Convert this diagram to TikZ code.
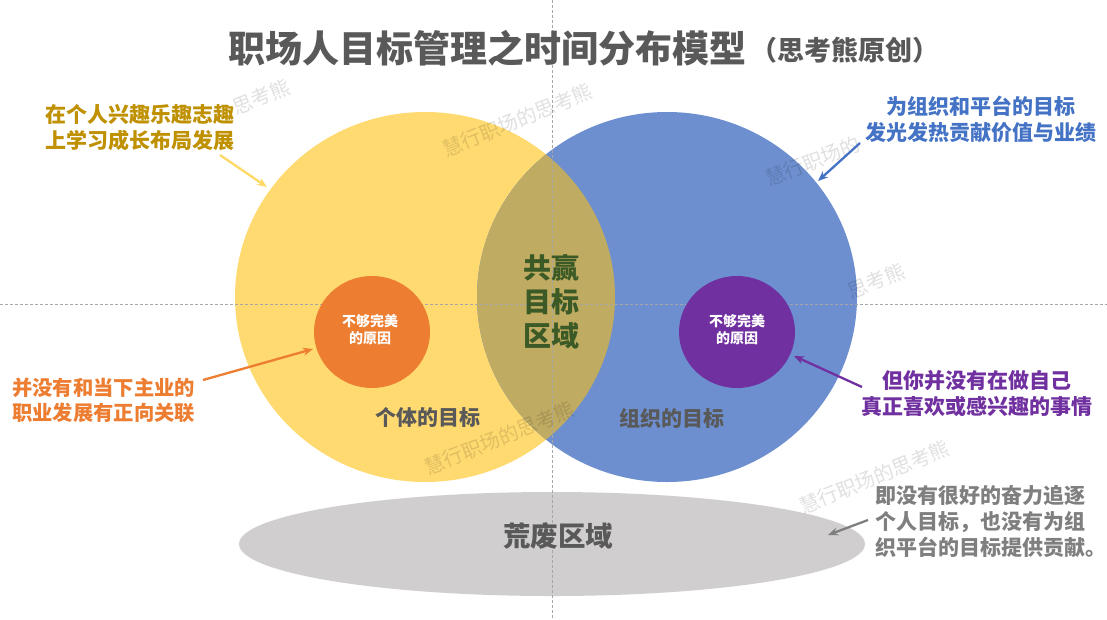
\documentclass[tikz,border=0pt]{standalone}
\usepackage{fontspec}
\setmainfont{Noto Sans CJK SC}
\usetikzlibrary{arrows.meta}
\definecolor{cyellow}{HTML}{FFDA70}
\definecolor{cblue}{HTML}{6D8FCF}
\definecolor{coverlap}{HTML}{BFAB62}
\definecolor{corange}{HTML}{ED7D31}
\definecolor{cpurple}{HTML}{7030A0}
\definecolor{cgrayell}{HTML}{D0CECE}
\definecolor{cdark}{HTML}{595959}
\definecolor{cgold}{HTML}{BF9000}
\definecolor{ctblue}{HTML}{4472C4}
\definecolor{cgreen}{HTML}{3B5A25}
\definecolor{cgtext}{HTML}{7F7F7F}
\definecolor{carrowy}{HTML}{FFD966}
\tikzset{
  lbl/.style={inner sep=0pt, font=\bfseries\fontsize{21}{26}\selectfont},
  wmark/.style={inner sep=0pt, anchor=west, rotate=22, text=black, opacity=0.12, font=\fontsize{20}{22}\selectfont},
  dashline/.style={draw=gray!70, line width=0.7pt, dash pattern=on 3pt off 2pt},
  arr/.style={line width=2.3pt, -{Stealth[length=10pt,width=8pt]}},
}
\begin{document}
\begin{tikzpicture}[x=1pt,y=-1pt]
\useasboundingbox (0,0) rectangle (1107,619);
\fill[white] (0,0) rectangle (1107,619);
% big circles
\fill[cyellow] (425,297) ellipse [x radius=190pt, y radius=185pt];
\fill[cblue] (667,297) ellipse [x radius=190pt, y radius=185pt];
\begin{scope}
\clip (425,297) ellipse [x radius=190pt, y radius=185pt];
\fill[coverlap] (667,297) ellipse [x radius=190pt, y radius=185pt];
\end{scope}
% waste ellipse
\fill[cgrayell] (552,544) ellipse [x radius=313pt, y radius=52pt];
% dashed guide lines
\coordinate (hl) at (0,304);
\coordinate (hr) at (1107,304);
\coordinate (vt) at (552,0);
\coordinate (vb) at (552,619);
\draw[dashline] (hl) -- (hr);
\draw[dashline] (vt) -- (vb);
% small circles
\fill[corange] (372,332) ellipse [x radius=58pt, y radius=56pt];
\fill[cpurple] (737,332) ellipse [x radius=58pt, y radius=56pt];
% watermarks
\node[wmark] (w1) at (443,150) {慧行职场的思考熊};
\node[wmark] (w2) at (233,108) {思考熊};
\node[wmark] (w3) at (766,180) {慧行职场的};
\node[wmark] (w4) at (848,292) {思考熊};
\node[wmark] (w5) at (425,468) {慧行职场的思考熊};
\node[wmark] (w6) at (800,507) {慧行职场的思考熊};
% title
\node[inner sep=0pt, anchor=west, text=cdark, font=\bfseries\fontsize{37}{40}\selectfont] (title) at (228,48) {职场人目标管理之时间分布模型};
\node[inner sep=0pt, anchor=west, text=cdark, font=\bfseries\fontsize{27}{30}\selectfont] (subtitle) at (750,50) {（思考熊原创）};
% labels
\node[lbl, text=cgold, align=left, anchor=west] (ylabel) at (45,128) {在个人兴趣乐趣志趣\\上学习成长布局发展};
\node[lbl, text=ctblue, align=center] (blabel) at (981,119) {为组织和平台的目标\\发光发热贡献价值与业绩};
\node[lbl, text=corange, align=left, anchor=west, font=\bfseries\fontsize{20.3}{25}\selectfont] (olabel) at (12,400) {并没有和当下主业的\\职业发展有正向关联};
\node[lbl, text=cpurple, align=center] (plabel) at (977,394) {但你并没有在做自己\\真正喜欢或感兴趣的事情};
\node[lbl, text=cgtext, align=left, anchor=west] (glabel) at (875,521) {即没有很好的奋力追逐\\个人目标，也没有为组\\织平台的目标提供贡献。};
% inner texts
\node[inner sep=0pt, text=cgreen, align=center, font=\bfseries\fontsize{28}{34}\selectfont] (win) at (551,302) {共赢\\目标\\区域};
\node[lbl, text=cdark] (indiv) at (428,417) {个体的目标};
\node[lbl, text=cdark] (org) at (672,418) {组织的目标};
\node[inner sep=0pt, text=white, align=center, font=\bfseries\fontsize{14}{17}\selectfont] (oreason) at (370,330) {不够完美\\的原因};
\node[inner sep=0pt, text=white, align=center, font=\bfseries\fontsize{14}{17}\selectfont] (preason) at (737,330) {不够完美\\的原因};
\node[inner sep=0pt, text=cdark, font=\bfseries\fontsize{27.5}{30}\selectfont] (waste) at (558,536) {荒废区域};
% arrows
\coordinate (ys) at (220,155); \coordinate (ye) at (267,187);
\coordinate (bs) at (860,143); \coordinate (be) at (818,181);
\coordinate (os) at (203,380); \coordinate (oe) at (313,349);
\coordinate (ps) at (862,387); \coordinate (pe) at (794,356);
\coordinate (gs) at (868,520); \coordinate (ge) at (828,535);
\draw[arr, carrowy] (ys) -- (ye);
\draw[arr, ctblue] (bs) -- (be);
\draw[arr, corange] (os) -- (oe);
\draw[arr, cpurple] (ps) -- (pe);
\draw[arr, cgtext] (gs) -- (ge);
\end{tikzpicture}
\end{document}
